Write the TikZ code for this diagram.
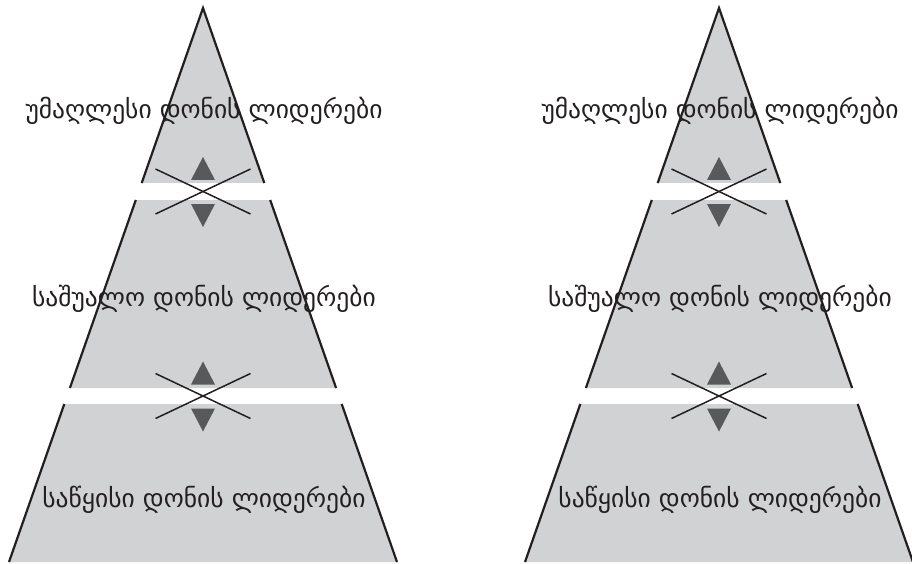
\documentclass[tikz,border=0pt]{standalone}
\usepackage{fontspec}
\newfontfamily\geofont[Script=Georgian]{DejaVu Sans}
\definecolor{bandgray}{HTML}{D1D2D4}
\definecolor{arrowgray}{HTML}{58595B}
\definecolor{inkblack}{HTML}{231F20}
\begin{document}
\begin{tikzpicture}[x=1pt,y=-1pt,
  band/.style={fill=bandgray,draw=none},
  side/.style={draw=inkblack,line width=2.2pt},
  crossline/.style={draw=inkblack,line width=1.5pt},
  tri/.style={fill=arrowgray,draw=none},
  label/.style={font=\geofont\fontsize{25.5}{28}\selectfont,text=inkblack,anchor=base,inner sep=0pt}]
\useasboundingbox (0,0) rectangle (912,564);
\foreach \cx/\nm in {203/L,719/R}{
\begin{scope}[xshift=\cx pt]
  % bands
  \fill[band] (0,8) -- (61.3,183) -- (-61.3,183) -- cycle;
  \fill[band] (-67.2,200) -- (67.2,200) -- (133.1,388) -- (-133.1,388) -- cycle;
  \fill[band] (-138.7,404) -- (138.7,404) -- (194,562) -- (-194,562) -- cycle;
  % sides
  \draw[side,line join=miter] (-61.3,183) -- (0,8) -- (61.3,183);
  \draw[side] (-67.2,200) -- (-133.1,388);
  \draw[side] (67.2,200) -- (133.1,388);
  \draw[side] (-138.7,404) -- (-194,562);
  \draw[side] (138.7,404) -- (194,562);
  % crosses and triangles
  \foreach \c in {191.5,396}{
    \draw[crossline] (-47.5,\c-22.5) -- (47.5,\c+22.5);
    \draw[crossline] (47.5,\c-22.5) -- (-47.5,\c+22.5);
    \fill[tri] (-12,\c-11.5) -- (12,\c-11.5) -- (0,\c-34.5) -- cycle;
    \fill[tri] (-12,\c+12.5) -- (12,\c+12.5) -- (0,\c+35.5) -- cycle;
  }
  % labels
  \node[label] (top\nm) at (1,119) {უმაღლესი დონის ლიდერები};
  \node[label] (mid\nm) at (1,306) {საშუალო დონის ლიდერები};
  \node[label] (bot\nm) at (1,507) {საწყისი დონის ლიდერები};
\end{scope}
}
\end{tikzpicture}
\end{document}
